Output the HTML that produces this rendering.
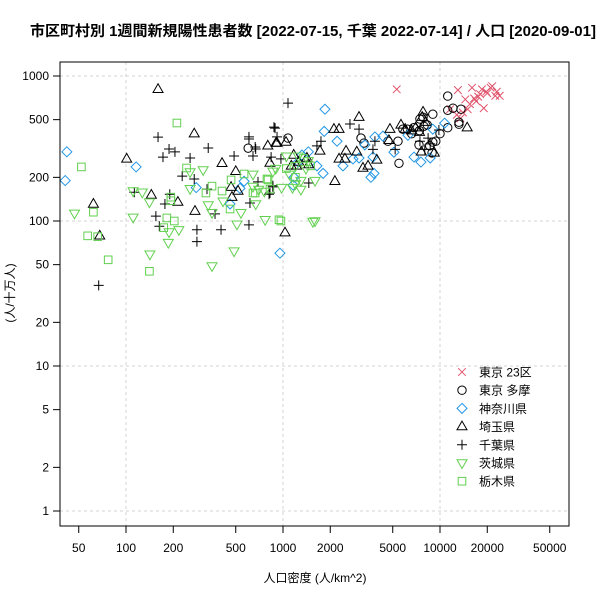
<!DOCTYPE html>
<html><head><meta charset="utf-8"><style>
body{margin:0;background:#fff}
svg{display:block;font-family:"Liberation Sans","Noto Sans CJK JP",sans-serif}
</style></head><body>
<svg id="chart" width="600" height="600" viewBox="0 0 600 600">
<text x="313" y="36" text-anchor="middle" font-size="14.5" font-weight="bold" textLength="566" lengthAdjust="spacingAndGlyphs">市区町村別 1週間新規陽性患者数 [2022-07-15, 千葉 2022-07-14] / 人口 [2020-09-01]</text>
<g id="grid"></g>
<g id="pts"></g>
<rect x="60" y="62" width="509" height="464" fill="none" stroke="#000" stroke-width="1"/>
<g id="axes"></g>
<text x="315" y="582" text-anchor="middle" font-size="12">人口密度 (人/km^2)</text>
<text transform="translate(14,293) rotate(-90)" text-anchor="middle" font-size="12">(人/十万人)</text>
<g id="legend"></g>
</svg>
<script>
const xTicks=[50,100,200,500,1000,2000,5000,10000,20000,50000];
const yTicks=[1,2,5,10,20,50,100,200,500,1000];
const xGrid=[100,1000,10000];
const yGrid=[1,10,100,1000];
const seriesNames=["東京 23区","東京 多摩","神奈川県","埼玉県","千葉県","茨城県","栃木県"];
const tokyo23=[[5300,810],[13000,800],[16000,830],[18000,750],[19700,780],[21000,830],[22500,730],[24000,730],[17000,670],[15500,640],[11600,590],[15000,590],[19000,600],[13500,510],[14500,690],[20000,760],[21500,850],[17500,720],[12800,540],[16500,700],[18500,810],[14000,560],[23000,780]];
const tokyoTama=[[11200,727],[11200,580],[12100,600],[13600,590],[9000,545],[7800,520],[7450,505],[11200,440],[13200,480],[13200,465],[6200,430],[5800,430],[7400,420],[9400,355],[9000,350],[7350,335],[5400,355],[4660,355],[3140,373],[3280,345],[5480,250],[8900,295],[1076,373],[7900,450],[600,318],[6800,440],[8300,460],[10000,400],[6600,400],[8600,330]];
const kanagawa=[[1850,590],[1830,415],[2210,355],[1320,285],[1645,240],[1800,213],[1175,200],[1160,177],[2790,268],[3050,272],[2410,240],[3740,276],[3800,213],[3630,200],[3320,335],[3850,380],[4330,385],[5090,298],[6250,390],[6830,276],[7560,255],[8660,272],[9000,430],[10700,473],[956,60],[42,300],[41,190],[116,236],[280,170],[565,188],[532,168],[460,131],[1450,300],[1250,255]];
const saitama=[[160,810],[272,400],[101,268],[62,131],[68,79],[145,151],[214,135],[275,117],[409,250],[500,220],[467,171],[473,146],[517,161],[903,345],[826,251],[800,330],[3050,520],[916,345],[1045,350],[1720,304],[2110,430],[2275,430],[2520,304],[2275,268],[2480,268],[3230,232],[3480,240],[3960,264],[2140,188],[4800,430],[5640,460],[6000,430],[6600,420],[7000,440],[7400,410],[7800,565],[7700,520],[8100,480],[7600,300],[9200,295],[14900,440],[1030,83],[1170,285],[1420,272],[1260,255],[1460,245],[1130,240],[1220,240],[4730,360],[2950,300]];
const chiba=[[67,36],[160,379],[188,314],[205,300],[172,276],[256,272],[334,319],[488,281],[607,368],[665,324],[644,281],[840,276],[890,437],[228,204],[272,195],[328,166],[190,153],[177,131],[155,108],[163,92],[283,87],[283,72],[403,87],[607,94],[616,133],[815,153],[369,112],[113,158],[876,444],[607,380],[670,314],[970,268],[693,186],[862,175],[826,156],[1076,650],[916,380],[1745,355],[1645,330],[2670,467],[3050,430],[3740,312],[3850,355],[5180,312],[7450,355],[8400,373],[8000,312],[8660,340],[9840,424],[862,172],[1460,183]];
const ibaraki=[[47,113],[111,106],[111,161],[127,158],[141,135],[188,84],[186,71],[142,59],[217,87],[256,218],[310,225],[334,129],[353,114],[415,137],[540,114],[509,95],[488,62],[353,49],[770,102],[670,131],[644,173],[862,220],[644,210],[256,167],[900,230],[1050,280],[1100,210],[1200,240],[1300,190],[1400,230],[1450,260],[1600,190],[980,170],[1150,170],[1600,100],[760,160],[700,165],[1250,280],[1200,180],[1300,165],[1550,99]];
const tochigi=[[52,236],[62,115],[57,79],[66,78],[77,54],[141,45],[211,474],[243,232],[193,146],[193,138],[182,105],[174,90],[203,100],[353,174],[323,156],[409,161],[467,192],[565,211],[644,156],[803,192],[826,166],[460,121],[943,102],[790,195],[665,156],[970,100],[1200,200],[1350,270],[1500,240],[1050,230]];

const NS="http://www.w3.org/2000/svg";
const xs=d=>283+157*Math.log10(d/1000);
const ys=v=>221-145*Math.log10(v/100);
function mk(tag,attrs,parent){const e=document.createElementNS(NS,tag);for(const k in attrs)e.setAttribute(k,attrs[k]);parent.appendChild(e);return e;}
const grid=document.getElementById('grid'),axes=document.getElementById('axes'),pts=document.getElementById('pts'),leg=document.getElementById('legend');
xGrid.forEach(v=>{const l=mk('line',{x1:xs(v),x2:xs(v),y1:62,y2:526,stroke:'#d3d3d3','stroke-dasharray':'3,3'},grid);

});
yGrid.forEach(v=>{const l=mk('line',{x1:60,x2:569,y1:ys(v),y2:ys(v),stroke:'#d3d3d3','stroke-dasharray':'3,3'},grid);

});
xTicks.forEach(v=>{const x=xs(v);mk('line',{x1:x,x2:x,y1:526,y2:533,stroke:'#000'},axes);
const t=mk('text',{x:x,y:552,'text-anchor':'middle','font-size':'12'},axes);t.textContent=v;

});
yTicks.forEach(v=>{const y=ys(v);mk('line',{x1:53,x2:60,y1:y,y2:y,stroke:'#000'},axes);
const t=mk('text',{x:49,y:y+4,'text-anchor':'end','font-size':'12'},axes);t.textContent=v;

});
function marker(type,x,y,color,parent){
 const a={fill:'none',stroke:color,'stroke-width':1};let e;
 if(type==='x'){e=mk('path',Object.assign({d:`M${x-3.8},${y-3.8}L${x+3.8},${y+3.8}M${x-3.8},${y+3.8}L${x+3.8},${y-3.8}`},a),parent);}
 else if(type==='o'){e=mk('circle',Object.assign({cx:x,cy:y,r:4.2},a),parent);}
 else if(type==='d'){e=mk('path',Object.assign({d:`M${x},${y-5}L${x+5},${y}L${x},${y+5}L${x-5},${y}Z`},a),parent);}
 else if(type==='t'){e=mk('path',Object.assign({d:`M${x},${y-5.5}L${x+5},${y+3.2}L${x-5},${y+3.2}Z`},a),parent);}
 else if(type==='p'){e=mk('path',Object.assign({d:`M${x-5},${y}L${x+5},${y}M${x},${y-5}L${x},${y+5}`},a),parent);}
 else if(type==='v'){e=mk('path',Object.assign({d:`M${x},${y+5.5}L${x+5},${y-3.2}L${x-5},${y-3.2}Z`},a),parent);}
 else {e=mk('rect',Object.assign({x:x-3.8,y:y-3.8,width:7.6,height:7.6},a),parent);}
 return e;
}
const series=[[tokyo23,'x','#DF536B'],[tokyoTama,'o','#000'],[kanagawa,'d','#2297E6'],[saitama,'t','#000'],[chiba,'p','#000'],[ibaraki,'v','#61D04F'],[tochigi,'s','#61D04F']];
series.forEach(([data,type,color],si)=>{
 data.forEach(([d,v])=>{const e=marker(type,xs(d),ys(v),color,pts);
 
 });
 const ly=372+si*18.2;
 const m=marker(type,462,ly,color,leg);
 
 
 const t=mk('text',{x:479,y:ly+4.5,'font-size':'12'},leg);t.textContent=seriesNames[si];
 
 
});
</script>
</body></html>
